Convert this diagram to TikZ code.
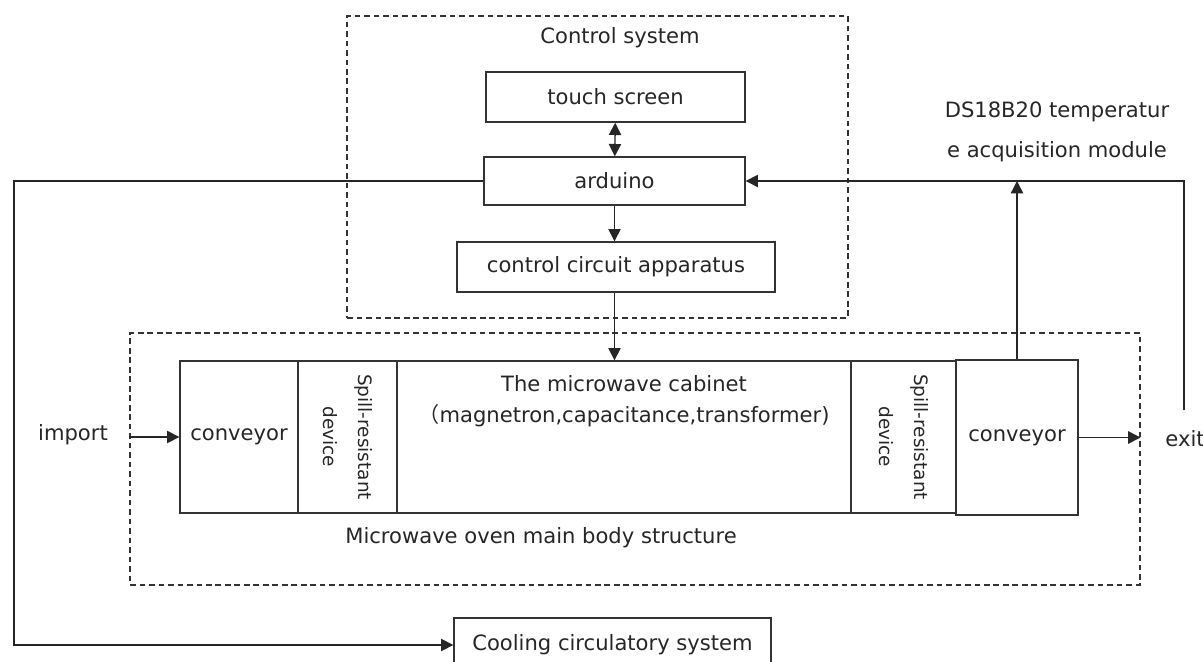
\documentclass[tikz,border=0pt]{standalone}
\usepackage{fontspec}
\setmainfont{DejaVu Sans}
\newfontfamily\cjk{Noto Sans CJK SC}
\usetikzlibrary{positioning}
\usetikzlibrary{arrows.meta}

\tikzset{
    blk/.style={draw=black!80, line width=0.8pt, rectangle, inner sep=0pt},
    dashbox/.style={draw=black!80, line width=0.7pt, dash pattern=on 3.2pt off 2.2pt, rectangle, inner sep=0pt},
    conn/.style={draw=black!85, line width=0.8pt, -{Triangle[length=7pt, width=7pt]}},
    lbl/.style={text=black!85, font=\fontsize{12}{14}\selectfont}
}

\begin{document}
\begin{tikzpicture}[x=0.02cm, y=-0.02cm, lbl]
        \useasboundingbox (0,0) rectangle (1203,662);

        % Control system
        \node[dashbox, minimum width=10.02cm, minimum height=6.04cm] (ctrlbox) at (597.5,167) {};
        \node[lbl] (ctrllabel) at (620,38) {Control system};
        \node[blk, minimum width=5.18cm, minimum height=1cm] (touch) at (615.5,97) {touch screen};
        \node[blk, minimum width=5.22cm, minimum height=0.96cm] (arduino) at (614.5,181) {arduino};
        \node[blk, minimum width=6.36cm, minimum height=1cm] (circuit) at (616,267) {control circuit apparatus};

        % Microwave oven main body
        \node[dashbox, minimum width=20.2cm, minimum height=5.04cm] (bodybox) at (635,459) {};
        \node[blk, minimum width=2.36cm, minimum height=3.04cm] (convin) at (239,437) {conveyor};
        \node[blk, minimum width=1.98cm, minimum height=3.04cm] (spillin) at (347.5,437) {};
        \node[lbl, rotate=-90, align=center, font=\fontsize{10.5}{20}\selectfont] (spillintext) at (spillin) {Spill-resistant\\device};
        \node[blk, minimum width=9.08cm, minimum height=3.04cm] (cabinet) at (624,437) {};
        \node[lbl, align=center, font=\fontsize{12}{18}\selectfont] (cabtext) at (624,401) {The microwave cabinet\\{\cjk （}magnetron,capacitance,transformer)};
        \node[blk, minimum width=2.1cm, minimum height=3.04cm] (spillout) at (903.5,437) {};
        \node[lbl, rotate=-90, align=center, font=\fontsize{10.5}{20}\selectfont] (spillouttext) at (spillout) {Spill-resistant\\device};
        \node[blk, minimum width=2.44cm, minimum height=3.1cm] (convout) at (1017,437.5) {conveyor};
        \node[lbl] (bodylabel) at (541,538) {Microwave oven main body structure};

        \node[lbl] (import) at (73,435) {import};
        \node[lbl] (exit) at (1185,439) {exit};
        \node[lbl, align=center, font=\fontsize{12}{23}\selectfont] (temp) at (1057,132) {DS18B20 temperatur\\e acquisition module};
        \node[blk, minimum width=6.34cm, minimum height=1.08cm] (cooling) at (612.5,645) {Cooling circulatory system};

        \coordinate (exittop) at (1184,410);
        \coordinate (leftcorner) at (14,181);

        % connectors
        \draw[conn, {Triangle[length=7pt, width=7pt]}-{Triangle[length=7pt, width=7pt]}] (touch) -- (arduino);
        \draw[conn] (arduino) -- (arduino |- circuit.north);
        \draw[conn] (arduino |- circuit.south) -- (arduino |- cabinet.north);
        \draw[conn] (bodybox.west |- convin) -- (convin.west);
        \draw[conn] (convout.east) -- (convout.east -| bodybox.east);
        \draw[conn] (convout.north) -- (convout.north |- arduino.east);
        \draw[conn] (exittop) |- (arduino.east);
        \draw[conn] (arduino.west) -- (leftcorner) |- (cooling.west);
    \end{tikzpicture}
\end{document}
